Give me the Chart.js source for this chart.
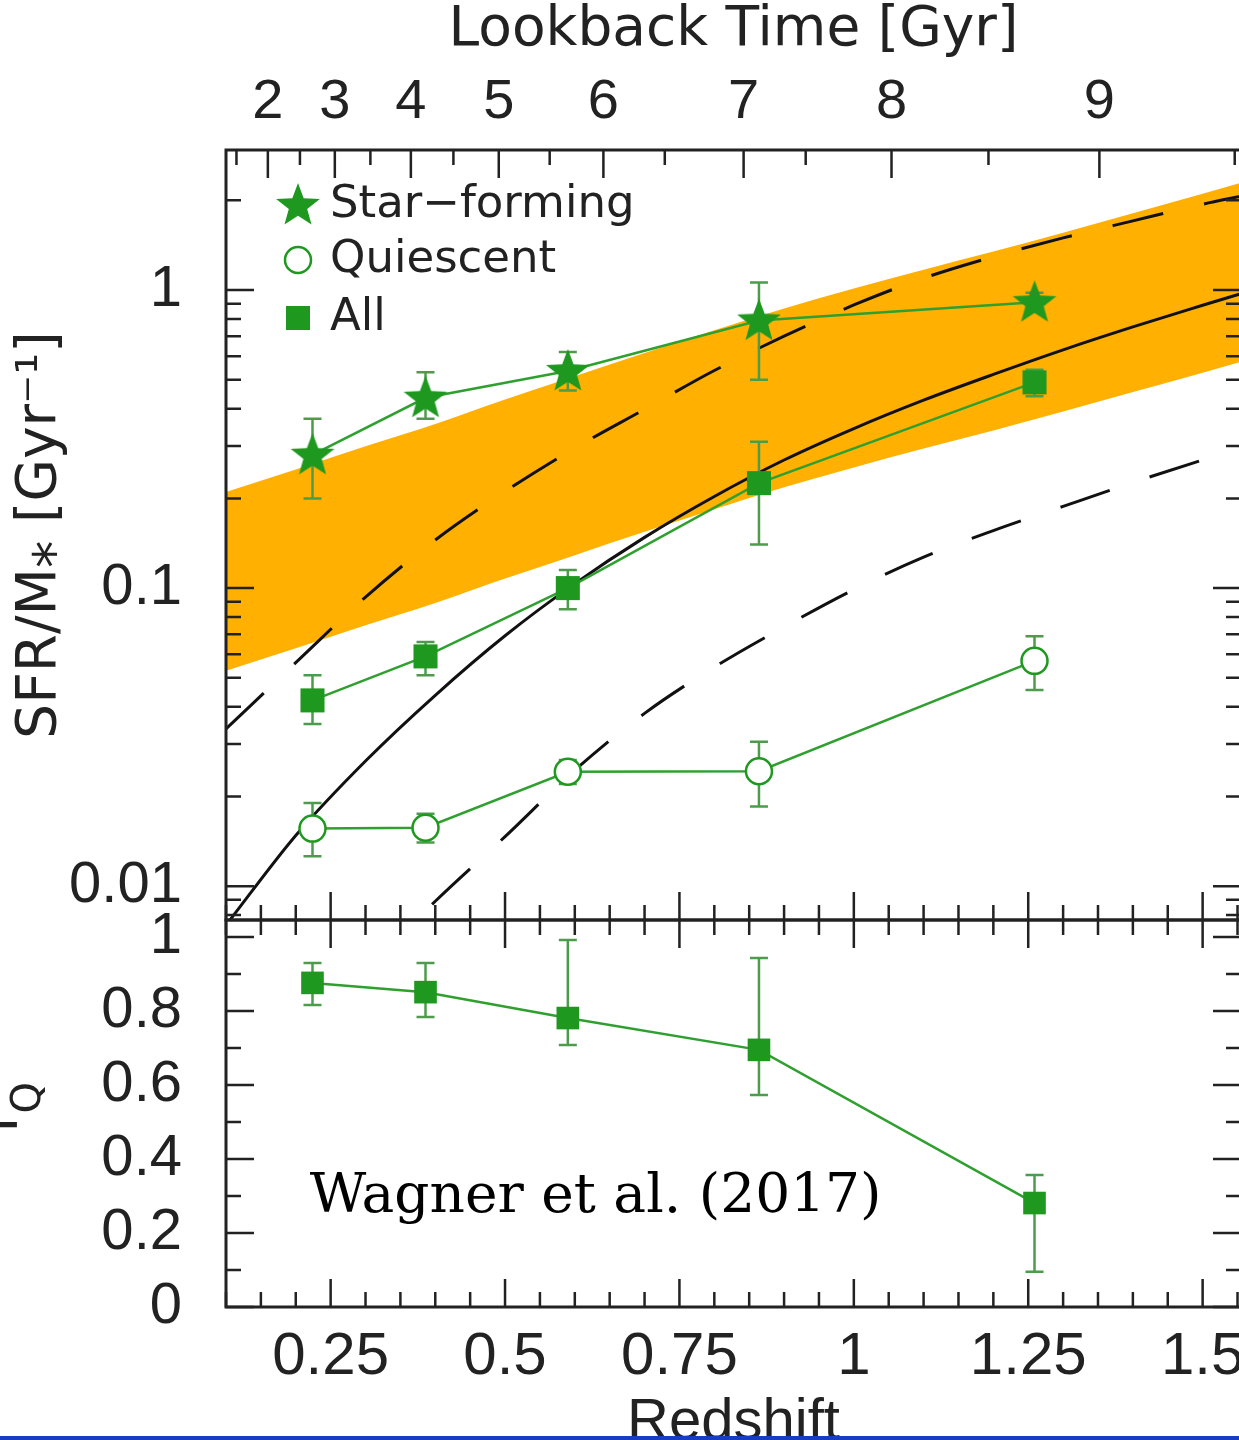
<!DOCTYPE html>
<html>
<head>
<meta charset="utf-8">
<script src="https://cdn.jsdelivr.net/npm/chart.js@4.4.0/dist/chart.umd.min.js"></script>
<style>
  html, body { margin: 0; padding: 0; background: #fff; }
  #wrap { position: relative; width: 1239px; height: 1440px; overflow: hidden; background: #fff; }
  #wrap canvas { position: absolute; left: 0; }
  #topCanvas { top: 0; }
  #botCanvas { top: 860px; }
  #strip { position: absolute; left: 0; top: 1436px; width: 1239px; height: 4px; background: #1a3cc0; }
</style>
</head>
<body>
<div id="wrap">
  <canvas id="topCanvas" width="1250" height="925"></canvas>
  <canvas id="botCanvas" width="1250" height="620"></canvas>
  <div id="strip"></div>
</div>
<script>
// measured points (redshift bins)
const redshift = [0.224, 0.386, 0.59, 0.864, 1.259];

const ssfrSF = [0.28, 0.435, 0.535, 0.79, 0.91];
const ssfrSFLo = [0.2, 0.37, 0.46, 0.5, 0.85];
const ssfrSFHi = [0.37, 0.53, 0.62, 1.06, 0.98];

const ssfrQ = [0.0156, 0.0157, 0.0242, 0.0243, 0.057];
const ssfrQLo = [0.0126, 0.014, 0.022, 0.0185, 0.0455];
const ssfrQHi = [0.019, 0.0175, 0.0265, 0.0305, 0.069];

const ssfrAll = [0.042, 0.059, 0.1, 0.225, 0.49];
const ssfrAllLo = [0.035, 0.051, 0.085, 0.14, 0.44];
const ssfrAllHi = [0.051, 0.066, 0.115, 0.31, 0.54];

const fQ = [0.876, 0.851, 0.781, 0.695, 0.281];
const fQLo = [0.816, 0.784, 0.708, 0.573, 0.095];
const fQHi = [0.93, 0.93, 0.992, 0.943, 0.357];

// model curves, sampled along redshift
const modelZ = [0.1, 0.2, 0.3, 0.4, 0.5, 0.6, 0.7, 0.8, 0.9, 1.0, 1.1, 1.2, 1.3, 1.4, 1.5, 1.555];
const bandUpper = [0.21, 0.25, 0.299, 0.355, 0.429, 0.514, 0.615, 0.733, 0.867, 1.012, 1.17, 1.346, 1.556, 1.811, 2.104, 2.291];
const bandLower = [0.0528, 0.0628, 0.075, 0.0891, 0.1076, 0.129, 0.1545, 0.184, 0.218, 0.254, 0.294, 0.338, 0.391, 0.455, 0.528, 0.575];
const solidModel = [0.0074, 0.0148, 0.0263, 0.0437, 0.0692, 0.1035, 0.148, 0.203, 0.269, 0.343, 0.427, 0.521, 0.63, 0.752, 0.889, 0.973];
const dashUpper = [0.0337, 0.0562, 0.0933, 0.145, 0.211, 0.295, 0.398, 0.537, 0.70, 0.891, 1.096, 1.294, 1.496, 1.706, 1.94, 2.065];
const lowZ = [0.3, 0.4, 0.5, 0.6, 0.7, 0.8, 0.9, 1.0, 1.1, 1.2, 1.3, 1.4, 1.5, 1.555];
const dashLower = [0.0052, 0.0089, 0.01466, 0.0245, 0.038, 0.0543, 0.0741, 0.0989, 0.127, 0.156, 0.188, 0.226, 0.269, 0.294];

// axes
const zTicks = [0.25, 0.5, 0.75, 1, 1.25, 1.5];
const zTickLabels = ['0.25', '0.5', '0.75', '1', '1.25', '1.5'];
const lookbackGyr = ['2', '3', '4', '5', '6', '7', '8', '9'];
const lookbackZ = [0.160, 0.256, 0.365, 0.491, 0.641, 0.842, 1.054, 1.352];
const lookbackHalfZ = [0.115, 0.206, 0.307, 0.426, 0.564, 0.729, 0.931, 1.193, 1.546];
const ssfrTicks = [0.01, 0.1, 1];
const ssfrTickLabels = ['0.01', '0.1', '1'];
const fqTicks = [0, 0.2, 0.4, 0.6, 0.8, 1];
const fqTickLabels = ['0', '0.2', '0.4', '0.6', '0.8', '1'];

const green = '#1f981f';
const lineGreen = '#2fa02f';
const errGreen = '#4c9c4c';
const orange = '#ffb000';
const ink = '#222';
const sans = '"Liberation Sans", Arial, sans-serif';
const wide = '"DejaVu Sans", sans-serif';

const pts = (xs, ys) => xs.map((x, i) => ({ x: x, y: ys[i] }));

// fixed axis box sizes, no extra label padding from the layout
const fixSize = (w, h) => s => {
  if (w !== null) s.width = w;
  if (h !== null) s.height = h;
  s.paddingLeft = s.paddingRight = s.paddingTop = s.paddingBottom = 0;
};

function makeStar(r, color) {
  const c = document.createElement('canvas');
  c.width = c.height = Math.ceil(2 * r + 2);
  const g = c.getContext('2d');
  g.translate(c.width / 2, c.height / 2 + 1);
  g.beginPath();
  for (let i = 0; i < 10; i++) {
    const rr = i % 2 ? r * 0.42 : r;
    const a = -Math.PI / 2 + i * Math.PI / 5;
    g.lineTo(rr * Math.cos(a), rr * Math.sin(a));
  }
  g.closePath();
  g.fillStyle = color;
  g.fill();
  return c;
}
const starImg = makeStar(23, green);

// minor redshift ticks every 0.05
const zMinor = [];
for (let i = 2; i <= 31; i++) if (i % 5 !== 0) zMinor.push(i * 0.05);
const logMinor = [];
[0.001, 0.01, 0.1, 1].forEach(d => { for (let m = 2; m <= 9; m++) logMinor.push(m * d); });

const errorBars = {
  id: 'errorBars',
  beforeDatasetDraw(chart, args) {
    const ds = chart.data.datasets[args.index];
    if (!ds.errLo) return;
    const xs = chart.scales.x, ys = chart.scales.y, ctx = chart.ctx;
    ctx.save();
    ctx.strokeStyle = errGreen;
    ctx.lineWidth = 2.5;
    ctx.beginPath();
    ds.data.forEach((p, i) => {
      const px = xs.getPixelForValue(p.x);
      const y1 = ys.getPixelForValue(ds.errLo[i]);
      const y2 = ys.getPixelForValue(ds.errHi[i]);
      ctx.moveTo(px, y1); ctx.lineTo(px, y2);
      ctx.moveTo(px - 9, y1); ctx.lineTo(px + 9, y1);
      ctx.moveTo(px - 9, y2); ctx.lineTo(px + 9, y2);
    });
    ctx.stroke();
    ctx.restore();
  }
};

// inward ticks on all four sides plus the box
function makeFrame(cfg) {
  return {
    id: 'frame',
    afterDraw(chart) {
      const { ctx, chartArea: a, scales } = chart;
      const x = scales.x, y = scales.y;
      const top = cfg.topScale ? scales[cfg.topScale] : x;
      const big = 28, small = 15;
      ctx.save();
      ctx.strokeStyle = ink;
      ctx.lineWidth = 2.5;
      ctx.beginPath();
      const vt = (scale, vals, len, y0, dir) => vals.forEach(v => {
        const p = scale.getPixelForValue(v);
        if (p < a.left - 1 || p > a.right + 1) return;
        ctx.moveTo(p, y0); ctx.lineTo(p, y0 + dir * len);
      });
      const ht = (vals, len) => vals.forEach(v => {
        const p = y.getPixelForValue(v);
        if (p < a.top - 1 || p > a.bottom + 1) return;
        ctx.moveTo(a.left, p); ctx.lineTo(a.left + len, p);
        ctx.moveTo(a.right, p); ctx.lineTo(a.right - len, p);
      });
      vt(x, zTicks, big, a.bottom, -1);
      vt(x, zMinor, small, a.bottom, -1);
      vt(top, cfg.topMajor, big, a.top, 1);
      vt(top, cfg.topMinor, small, a.top, 1);
      ht(cfg.yMajor, big);
      ht(cfg.yMinor, small);
      ctx.stroke();
      ctx.lineWidth = 3;
      ctx.strokeRect(a.left, a.top, a.right - a.left, a.bottom - a.top);
      ctx.restore();
    }
  };
}

const legendBox = {
  id: 'legendBox',
  afterDraw(chart) {
    const { ctx, chartArea: a } = chart;
    const mx = a.left + 72, tx = a.left + 104;
    const rows = [a.top + 55, a.top + 110, a.top + 168];
    ctx.save();
    ctx.drawImage(starImg, mx - starImg.width / 2, rows[0] - starImg.height / 2);
    ctx.beginPath();
    ctx.arc(mx, rows[1], 13, 0, Math.PI * 2);
    ctx.fillStyle = '#fff'; ctx.fill();
    ctx.strokeStyle = green; ctx.lineWidth = 2.5; ctx.stroke();
    ctx.fillStyle = green;
    ctx.fillRect(mx - 12, rows[2] - 12, 24, 24);
    ctx.fillStyle = ink;
    ctx.font = '45px ' + wide;
    ctx.textBaseline = 'middle';
    ctx.fillText('Star\u2212forming', tx, rows[0]);
    ctx.fillText('Quiescent', tx, rows[1]);
    ctx.fillText('All', tx, rows[2]);
    ctx.restore();
  }
};

const tickFont = { family: sans, size: 58 };

new Chart(document.getElementById('topCanvas'), {
  type: 'line',
  data: {
    datasets: [
      { data: pts(redshift, ssfrSF), errLo: ssfrSFLo, errHi: ssfrSFHi, borderColor: lineGreen, borderWidth: 2.5,
        pointStyle: starImg, pointRadius: 22, order: 1 },
      { data: pts(redshift, ssfrAll), errLo: ssfrAllLo, errHi: ssfrAllHi, borderColor: lineGreen, borderWidth: 2.5,
        pointStyle: 'rect', pointRadius: 17, pointBackgroundColor: green, pointBorderWidth: 0, order: 2 },
      { data: pts(redshift, ssfrQ), errLo: ssfrQLo, errHi: ssfrQHi, borderColor: lineGreen, borderWidth: 2.5,
        pointStyle: 'circle', pointRadius: 13, pointBackgroundColor: '#fff', pointBorderColor: green, pointBorderWidth: 2.5, order: 3 },
      { data: pts(modelZ, solidModel), borderColor: '#111', borderWidth: 3, pointRadius: 0,
        cubicInterpolationMode: 'monotone', order: 5 },
      { data: pts(modelZ, dashUpper), borderColor: '#111', borderWidth: 3, borderDash: [52, 42], pointRadius: 0,
        cubicInterpolationMode: 'monotone', order: 5 },
      { data: pts(lowZ, dashLower), borderColor: '#111', borderWidth: 3, borderDash: [52, 42], pointRadius: 0,
        cubicInterpolationMode: 'monotone', order: 5 },
      { data: pts(modelZ, bandUpper), borderColor: 'transparent', borderWidth: 0, pointRadius: 0,
        cubicInterpolationMode: 'monotone', fill: '+1', backgroundColor: orange, order: 10 },
      { data: pts(modelZ, bandLower), borderColor: 'transparent', borderWidth: 0, pointRadius: 0,
        cubicInterpolationMode: 'monotone', fill: false, order: 11 }
    ]
  },
  options: {
    responsive: false,
    animation: false,
    devicePixelRatio: 1,
    layout: { autoPadding: false, padding: { left: 0, right: 9, top: 0, bottom: 5 } },
    plugins: { legend: { display: false }, tooltip: { enabled: false } },
    scales: {
      x: { type: 'linear', min: 0.1, max: 1.555, display: false, afterFit: fixSize(null, 0) },
      x2: {
        type: 'linear', position: 'top', min: 0.1, max: 1.555,
        grid: { display: false, drawTicks: false }, border: { display: false },
        afterFit: fixSize(null, 150),
        afterBuildTicks: s => { s.ticks = lookbackZ.map(v => ({ value: v })); },
        ticks: { autoSkip: false, maxRotation: 0, padding: 14, color: ink, font: { family: sans, size: 56 },
          callback: (v, i) => lookbackGyr[i] },
        title: { display: true, text: 'Lookback Time [Gyr]', color: ink, font: { family: wide, size: 55 }, padding: { top: -2, bottom: 0 } }
      },
      y: {
        type: 'logarithmic', min: 0.0077, max: 2.95,
        grid: { display: false, drawTicks: false }, border: { display: false },
        afterFit: fixSize(226, null),
        afterBuildTicks: s => { s.ticks = ssfrTicks.map(v => ({ value: v })); },
        ticks: { autoSkip: false, padding: 44, color: ink, font: tickFont, callback: (v, i) => ssfrTickLabels[i] },
        title: { display: true, text: 'SFR/M\u204E [Gyr\u207B\u00B9]', color: ink, font: { family: wide, size: 55 }, padding: { top: 8, bottom: 0 } }
      }
    }
  },
  plugins: [errorBars, makeFrame({ topScale: 'x2', topMajor: lookbackZ, topMinor: lookbackHalfZ, yMajor: ssfrTicks, yMinor: logMinor }), legendBox]
});

const bottomExtras = {
  id: 'bottomExtras',
  afterDraw(chart) {
    const { ctx, chartArea: a, scales } = chart;
    ctx.save();
    ctx.fillStyle = '#000';
    ctx.font = '55px "DejaVu Serif", "Liberation Serif", serif';
    ctx.textBaseline = 'middle';
    ctx.fillText('Wagner et al. (2017)', scales.x.getPixelForValue(0.22), scales.y.getPixelForValue(0.295));
    // f_Q axis title (rotated, partly off the left edge)
    ctx.translate(2, (a.top + a.bottom) / 2 + 20);
    ctx.rotate(-Math.PI / 2);
    ctx.fillStyle = ink;
    ctx.textBaseline = 'middle';
    ctx.font = '58px ' + wide;
    ctx.fillText('f', 0, 0);
    ctx.font = '40px ' + wide;
    ctx.fillText('Q', 20, 28);
    ctx.restore();
  }
};

new Chart(document.getElementById('botCanvas'), {
  type: 'line',
  data: {
    datasets: [
      { data: pts(redshift, fQ), errLo: fQLo, errHi: fQHi, borderColor: lineGreen, borderWidth: 2.5,
        pointStyle: 'rect', pointRadius: 16, pointBackgroundColor: green, pointBorderWidth: 0 }
    ]
  },
  options: {
    responsive: false,
    animation: false,
    devicePixelRatio: 1,
    layout: { autoPadding: false, padding: { left: 0, right: 9, top: 60, bottom: 0 } },
    plugins: { legend: { display: false }, tooltip: { enabled: false } },
    scales: {
      x: {
        type: 'linear', min: 0.1, max: 1.555,
        grid: { display: false, drawTicks: false }, border: { display: false },
        afterFit: fixSize(null, 173),
        afterBuildTicks: s => { s.ticks = zTicks.map(v => ({ value: v })); },
        ticks: { autoSkip: false, maxRotation: 0, padding: 14, color: ink, font: { family: sans, size: 60 },
          callback: (v, i) => zTickLabels[i] },
        title: { display: true, text: 'Redshift', color: ink, font: { family: sans, size: 58 }, padding: { top: 0, bottom: 22 } }
      },
      y: {
        type: 'linear', min: 0, max: 1.046,
        grid: { display: false, drawTicks: false }, border: { display: false },
        afterFit: fixSize(226, null),
        afterBuildTicks: s => { s.ticks = fqTicks.map(v => ({ value: v })); },
        ticks: { autoSkip: false, padding: 44, color: ink, font: tickFont, callback: (v, i) => fqTickLabels[i] }
      }
    }
  },
  plugins: [errorBars, makeFrame({ topScale: null, topMajor: zTicks, topMinor: zMinor, yMajor: fqTicks, yMinor: [0.1, 0.3, 0.5, 0.7, 0.9] }), bottomExtras]
});
</script>
</body>
</html>
